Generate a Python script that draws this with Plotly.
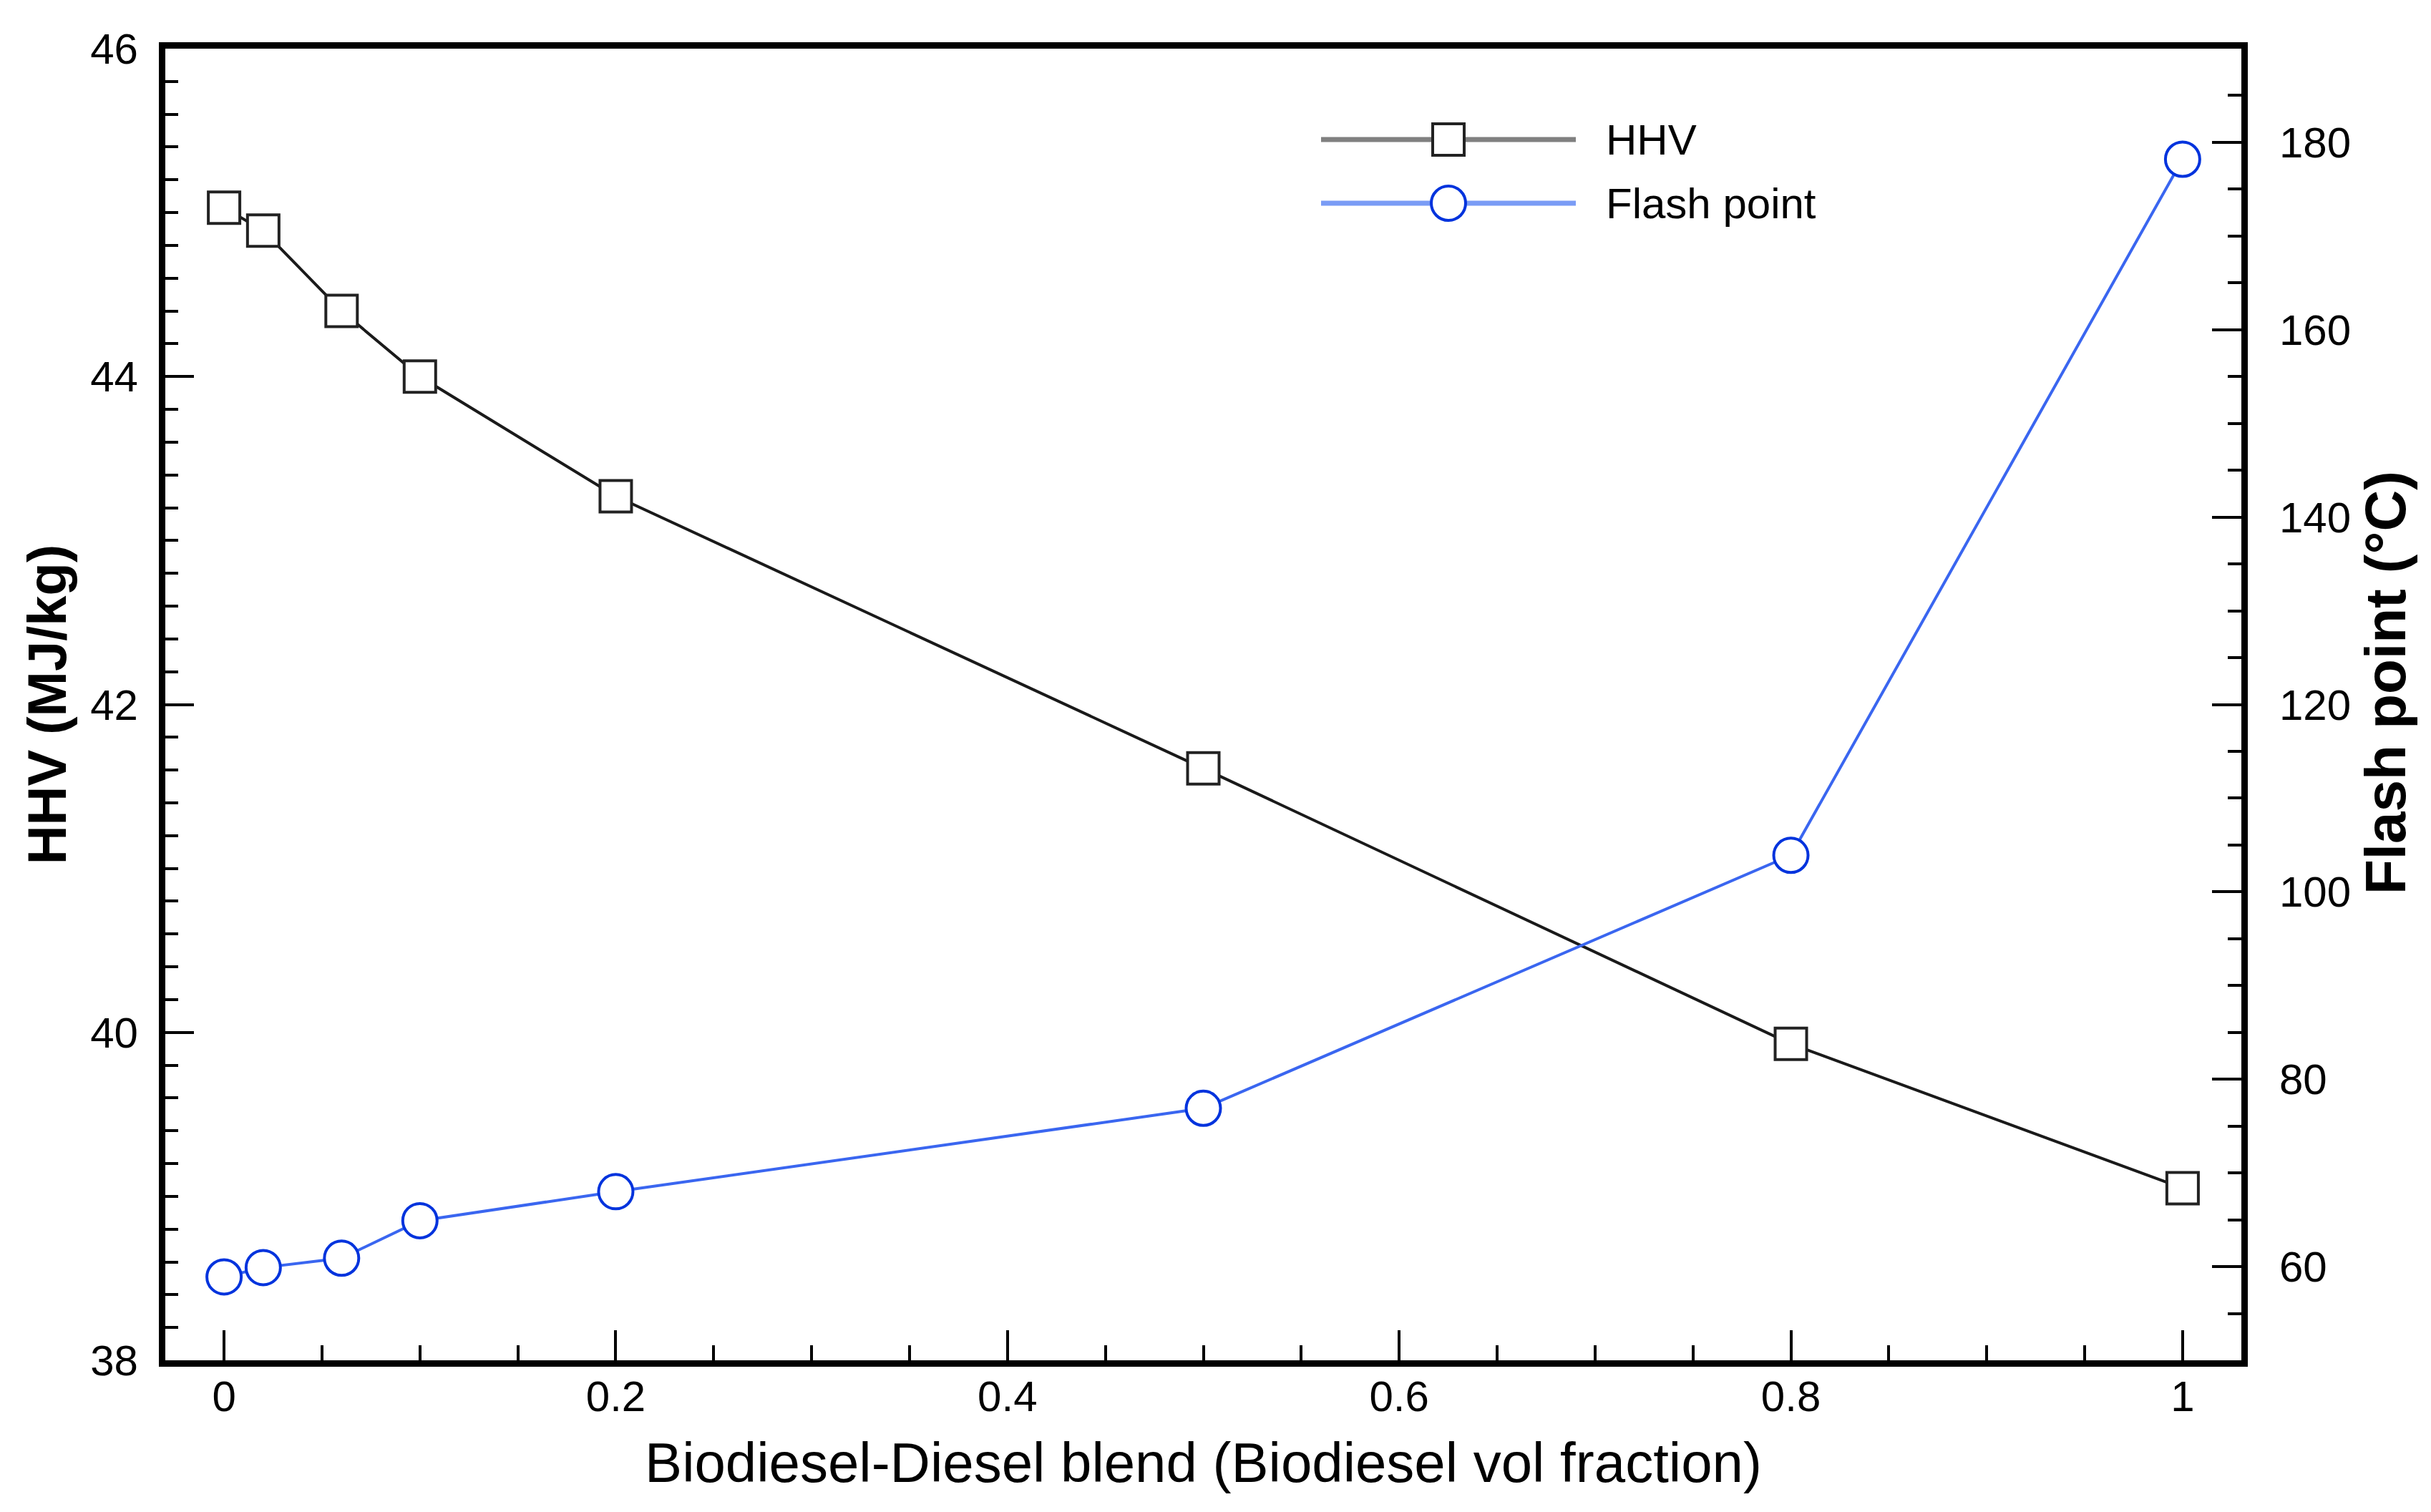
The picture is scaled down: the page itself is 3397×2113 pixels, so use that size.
import plotly.graph_objects as go

# Data
blend = [0, 0.02, 0.06, 0.1, 0.2, 0.5, 0.8, 1.0]
hhv = [45.03, 44.89, 44.40, 44.00, 43.27, 41.61, 39.93, 39.05]
flash_point = [58.9, 59.9, 60.9, 64.9, 68.0, 76.9, 103.9, 178.2]

series_names = ["HHV", "Flash point"]
x_title = "Biodiesel-Diesel blend (Biodiesel vol fraction)"
y_title = "HHV (MJ/kg)"
y2_title = "Flash point (°C)"

FONT = "Liberation Sans, Arial, Helvetica, sans-serif"

W, H = 3397, 2113
ML, MR, MT, MB = 223, 273, 60, 220
PW, PH = W - ML - MR, H - MT - MB

HHV_STYLE = dict(line="#1a1a1a", marker_line="#222222", legend_line="#808080")
FP_STYLE = dict(line="#3a66f0", marker_line="#0033dd", legend_line="#7a9cf5")

fig = go.Figure()

fig.add_trace(go.Scatter(
    x=blend, y=hhv, name=series_names[0], mode="lines+markers",
    line=dict(color=HHV_STYLE["line"], width=4),
    marker=dict(symbol="square", size=44, color="white",
                line=dict(color=HHV_STYLE["marker_line"], width=4)),
    yaxis="y", showlegend=False,
))

fig.add_trace(go.Scatter(
    x=blend, y=flash_point, name=series_names[1], mode="lines+markers",
    line=dict(color=FP_STYLE["line"], width=4),
    marker=dict(symbol="circle", size=48, color="white",
                line=dict(color=FP_STYLE["marker_line"], width=4)),
    yaxis="y2", showlegend=False,
))

# ---- legend drawn as a key (pixel positions converted to paper coords)
def px(xpix):
    return (xpix - ML) / PW

def py(ypix):
    return 1 - (ypix - MT) / PH

shapes = []
annotations = []
legend_rows = [
    (series_names[0], 187, HHV_STYLE, "square", 22),
    (series_names[1], 276, FP_STYLE, "circle", 24),
]
LX0, LX1, LXC, LTX = 1838, 2194, 2016, 2234
for name, yc, st, sym, half in legend_rows:
    shapes.append(dict(type="line", xref="paper", yref="paper",
                       x0=px(LX0), x1=px(LXC - half), y0=py(yc), y1=py(yc),
                       line=dict(color=st["legend_line"], width=7)))
    shapes.append(dict(type="line", xref="paper", yref="paper",
                       x0=px(LXC + half), x1=px(LX1), y0=py(yc), y1=py(yc),
                       line=dict(color=st["legend_line"], width=7)))
    shapes.append(dict(type="rect" if sym == "square" else "circle",
                       xref="paper", yref="paper",
                       x0=px(LXC - half), x1=px(LXC + half),
                       y0=py(yc + half), y1=py(yc - half),
                       fillcolor="white",
                       line=dict(color=st["marker_line"], width=4)))
    annotations.append(dict(text=name, xref="paper", yref="paper",
                            x=px(LTX), y=py(yc), xanchor="left",
                            yanchor="middle", showarrow=False,
                            font=dict(family=FONT, size=60, color="black")))

# right-hand axis title
annotations.append(dict(text="<b>" + y2_title + "</b>", xref="paper",
                        yref="paper", x=px(3325), y=py(946),
                        xanchor="center", yanchor="middle", textangle=-90,
                        showarrow=False,
                        font=dict(family=FONT, size=80, color="black")))

axis_common = dict(
    showgrid=False, zeroline=False, showline=True, linecolor="black",
    linewidth=9, ticks="inside", tickwidth=4, tickcolor="black",
    tickfont=dict(family=FONT, size=60, color="black"),
    automargin=False,
)

fig.update_layout(
    width=W, height=H,
    margin=dict(l=ML, r=MR, t=MT, b=MB, autoexpand=False),
    paper_bgcolor="white", plot_bgcolor="white",
    font=dict(family=FONT, color="black"),
    xaxis=dict(
        range=[-0.03, 1.03], tick0=0, dtick=0.2, ticklen=42,
        minor=dict(dtick=0.05, tick0=0, ticklen=21, tickwidth=4,
                   tickcolor="black", ticks="inside"),
        mirror=True, ticklabelstandoff=-10,
        title=dict(text=x_title, font=dict(family=FONT, size=78), standoff=36),
        **axis_common,
    ),
    yaxis=dict(
        range=[38, 46], tick0=38, dtick=2, ticklen=40,
        minor=dict(dtick=0.2, tick0=38, ticklen=18, tickwidth=4,
                   tickcolor="black", ticks="inside"),
        ticklabelstandoff=17,
        title=dict(text="<b>" + y_title + "</b>",
                   font=dict(family=FONT, size=76), standoff=12),
        **axis_common,
    ),
    yaxis2=dict(
        range=[50, 190], tick0=0, dtick=20, ticklen=41, overlaying="y",
        side="right", ticklabelstandoff=32,
        minor=dict(dtick=5, tick0=0, ticklen=19, tickwidth=4,
                   tickcolor="black", ticks="inside"),
        **axis_common,
    ),
    shapes=shapes,
    annotations=annotations,
    showlegend=False,
)

fig.write_html("out.html")
